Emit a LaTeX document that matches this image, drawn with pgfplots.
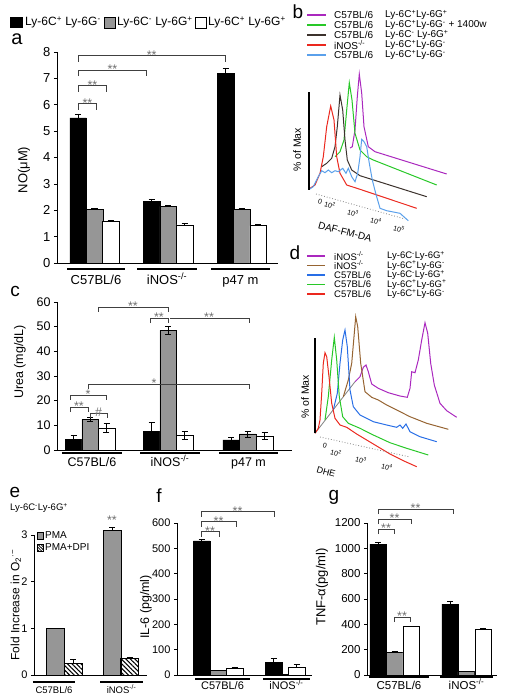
\documentclass[border=0pt]{standalone}
\usepackage{fontspec}
\setmainfont{Liberation Sans}
\usepackage{pgfplots}
\pgfplotsset{compat=1.18}
\usetikzlibrary{patterns.meta}
\newcommand\Pl{\textsuperscript{+}}
\newcommand\Mi{\textsuperscript{-}}
\newcommand\KO{\textsuperscript{-/-}}
\newcommand\fs[1]{\fontsize{#1}{#1}\selectfont}
\definecolor{barg}{RGB}{150,150,150}
\definecolor{cpur}{RGB}{170,40,190}
\definecolor{cgrn}{RGB}{40,200,40}
\definecolor{cbrn}{RGB}{150,100,50}
\definecolor{cdk}{RGB}{60,50,45}
\definecolor{cred}{RGB}{235,40,30}
\definecolor{cblu}{RGB}{40,110,230}
\definecolor{cltb}{RGB}{90,160,235}
\definecolor{cstar}{RGB}{110,110,110}
\pgfplotsset{
 panel/.style={anchor=south west, scale only axis, axis lines*=left, tick align=outside, xtick=\empty, clip=false,
   axis line style={line width=0.6pt}, major tick length=3pt, tick style={line width=0.6pt, black}, ymin=0,
   /pgf/number format/assume math mode=true, /pgf/number format/1000 sep={}},
 mybar/.style={ybar, bar shift=0pt, bar width=16.5, draw=black, line width=0.5pt,
   error bars/y dir=plus, error bars/y explicit,
   error bars/error bar style={line width=0.6pt, black},
   error bars/error mark options={rotate=90, mark size=3pt, line width=0.6pt, black}},
 flow/.style={anchor=south west, scale only axis, axis lines=none, clip=false, y dir=reverse, xmin=290, xmax=509},
}
% bracket: x1, x2, y, xmid, label, tick length
\newcommand\brk[6]{%
 \draw[black!75,line width=0.6pt] (axis cs:#1,#3) ++(0pt,-#6pt) -- ++(0pt,#6pt) -- (axis cs:#2,#3) -- ++(0pt,-#6pt);
 \node[cstar,anchor=base,inner sep=0pt,font=\fs{12.5},yshift=-3.5pt] at (axis cs:#4,#3) {#5};}
% group: x1, length, center, line drop, label drop, font size, text
\newcommand\grp[7]{%
 \draw[line width=1.3pt] (axis cs:#1,0) ++(0pt,-#4pt) -- ++(#2pt,0pt);
 \node[font=\fs{#6},anchor=base,inner sep=0pt,yshift=-#5pt] at (axis cs:#3,0) {#7};}
\begin{document}
\begin{tikzpicture}
\useasboundingbox (0,0) rectangle (509pt,-696pt);
%================ a
\begin{axis}[panel, at={(57pt,-263pt)}, width=221pt, height=211pt, xmin=57, xmax=278, ymax=8,
  ytick={0,1,...,8}, yticklabel style={font=\fs{13}}]
\addplot[mybar, fill=black] coordinates {(78,5.5) +- (0,0.15) (151.5,2.33) +- (0,0.1) (225.5,7.18) +- (0,0.22)};
\addplot[mybar, fill=barg] coordinates {(94.5,2.02) +- (0,0.05) (168,2.15) +- (0,0.04) (241.5,2.02) +- (0,0.05)};
\addplot[mybar, fill=white] coordinates {(110.5,1.57) +- (0,0.04) (184.5,1.45) +- (0,0.05) (258,1.42) +- (0,0.03)};
\brk{78.3}{96.7}{6.04}{87.5}{**}{6}
\brk{78.3}{106.7}{6.72}{92.5}{**}{6}
\brk{78.3}{146.7}{7.31}{112.5}{**}{6}
\brk{78.3}{225}{7.86}{151.7}{**}{6}
\grp{67}{58}{96}{6}{21}{13}{C57BL/6}
\grp{137}{60}{167}{6}{21}{13}{iNOS\KO}
\grp{211}{59}{240.5}{6}{21}{13}{p47 m}
\end{axis}
%================ c
\begin{axis}[panel, at={(57pt,-450pt)}, width=235pt, height=148pt, xmin=57, xmax=292, ymax=60,
  ytick={0,10,...,60}, yticklabel style={font=\fs{12.5}}]
\addplot[mybar, error bars/y dir=both, fill=black] coordinates {(73.5,4.3) +- (0,1.8) (151.5,7.6) +- (0,3.6) (231,4.1) +- (0,1.0)};
\addplot[mybar, error bars/y dir=both, fill=barg] coordinates {(90,12.4) +- (0,0.8) (168,48.5) +- (0,1.5) (247.5,6.5) +- (0,1.2)};
\addplot[mybar, error bars/y dir=both, fill=white] coordinates {(106.5,9.0) +- (0,1.8) (184.5,5.9) +- (0,1.6) (264.5,5.7) +- (0,1.3)};
\brk{70}{88}{17.4}{79}{**}{5}
\brk{90}{107}{15}{98.5}{\#}{5}
\brk{70}{106}{22.3}{88}{*}{5}
\brk{88}{249}{26.8}{154}{*}{5}
\brk{98}{168}{58}{133}{**}{5}
\brk{150}{168}{53.5}{159}{**}{5}
\draw[black!75,line width=0.6pt] (axis cs:170,53.5) -- (axis cs:249,53.5) -- ++(0pt,-5pt);
\node[cstar,anchor=base,inner sep=0pt,font=\fs{12.5},yshift=-3.5pt] at (axis cs:209,53.5) {**};
\grp{62}{60}{92}{3}{16}{12.5}{C57BL/6}
\grp{140}{60}{170}{3}{16}{12.5}{iNOS\KO}
\grp{219}{59}{248.5}{3}{16}{12.5}{p47 m}
\end{axis}
%================ e
\begin{axis}[panel, at={(34pt,-675pt)}, width=113pt, height=140pt, xmin=34, xmax=147, ymax=3,
  ytick={0,1,2,3}, yticklabel style={font=\fs{11}}]
\addplot[mybar, bar width=18, fill=barg] coordinates {(55,1.0) +- (0,0) (112,3.1) +- (0,0.06)};
\addplot[mybar, bar width=18, pattern={Lines[angle=-45,distance=3.2pt,line width=1.1pt]}] coordinates {(73,0.25) +- (0,0.08) (129.5,0.35) +- (0,0.04)};
\node[cstar,anchor=base,inner sep=0pt,font=\fs{12.5}] at (axis cs:112,3.22) {**};
\grp{33}{42}{54}{7}{18}{9.5}{C57BL/6}
\grp{100}{43}{121.5}{7}{18}{9.5}{iNOS\KO}
\end{axis}
%================ f
\begin{axis}[panel, at={(177pt,-675pt)}, width=135pt, height=152pt, xmin=177, xmax=312, ymax=600,
  ytick={0,100,...,600}, yticklabel style={font=\fs{11}}]
\addplot[mybar, fill=black] coordinates {(201.5,529) +- (0,8) (273.5,49) +- (0,18)};
\addplot[mybar, fill=barg] coordinates {(218,17) +- (0,2)};
\addplot[mybar, bar width=6, fill=barg] coordinates {(285,3) +- (0,0)};
\addplot[mybar, fill=white] coordinates {(234.5,28) +- (0,4) (296.5,32) +- (0,10)};
\brk{201}{219}{566}{210}{**}{5}
\brk{201}{236}{605}{218.5}{**}{5}
\brk{201}{274}{645}{237.5}{**}{5}
\grp{195}{55}{222.5}{4}{14}{11}{C57BL/6}
\grp{263}{47}{286.5}{4}{14}{11}{iNOS\KO}
\end{axis}
%================ g
\begin{axis}[panel, at={(367pt,-675pt)}, width=130pt, height=152pt, xmin=367, xmax=497, ymax=1200,
  ytick={0,200,...,1200}, yticklabel style={font=\fs{11.5}}]
\addplot[mybar, fill=black] coordinates {(378,1034) +- (0,15) (450,560) +- (0,25)};
\addplot[mybar, fill=barg] coordinates {(394.5,179) +- (0,8) (466,26) +- (0,3)};
\addplot[mybar, fill=white] coordinates {(411,381) +- (0,5) (483,360) +- (0,12)};
\brk{378}{394}{1152}{386}{**}{5}
\brk{378}{411}{1231}{394.5}{**}{5}
\brk{378}{453}{1310}{415.5}{**}{5}
\brk{394}{410}{457}{402}{**}{5}
\grp{369}{60}{399}{2}{14}{11.5}{C57BL/6}
\grp{440}{53}{466.5}{2}{14}{11.5}{iNOS\KO}
\end{axis}
%================ b (flow)
\begin{axis}[flow, at={(290pt,-245pt)}, width=219pt, height=185pt, ymin=60, ymax=245]
\addplot[cpur, line width=1pt] coordinates {(350,148) (352.3,146.7) (355,130) (357.3,96.7) (359.3,74) (361.7,93.3) (364,126.7) (368.3,146.7) (375,151.7) (446.7,174)};
\addplot[cgrn, line width=1pt] coordinates {(335,156.7) (340,151.7) (344,140) (346.7,110) (349.3,82.7) (352,100) (355,133.3) (360,150) (366.7,156.7) (373.3,160) (436.7,185)};
\addplot[cdk, line width=1pt] coordinates {(321.7,166.7) (326.7,163.3) (331.7,158.3) (335,146.7) (337.3,126.7) (340,95) (342.7,110) (345,140) (347.3,160) (351.7,170) (360,175.7) (426.7,196.7)};
\addplot[cred, line width=1pt] coordinates {(310,188.3) (315,185) (320,173.3) (323.3,156.7) (326.7,126.7) (330.7,106) (334,120) (336.7,156.7) (340,173.3) (346.7,185) (360,189.3) (416.7,208.3)};
\addplot[cltb, line width=1pt] coordinates {(309.3,189.3) (313.3,186.7) (318.3,176.7) (321.7,170.7) (325,172.7) (328.3,170) (331.7,172.7) (335,170.7) (338.3,171.7) (342.7,168.3) (346,173.3) (348.3,168.3) (351.7,176.7) (355,181.7) (357.7,173.3) (360,156.7) (361.7,139.3) (364,141.7) (366.7,146.7) (369.3,163.3) (372.3,180) (375.7,193.3) (380,208.3) (386.7,210.7) (400,213.3) (408.3,220.7)};
\end{axis}
%================ d (flow)
\begin{axis}[flow, at={(290pt,-480pt)}, width=219pt, height=180pt, ymin=300, ymax=480]
\addplot[gray, line width=0.8pt] coordinates {(315,433.3) (355,381.7)};
\addplot[cpur, line width=1pt] coordinates {(355,381.7) (360,376.7) (363.3,367.3) (366,365) (368.3,371.7) (371.7,384) (378.3,388.3) (388.3,392.7) (400,396) (407.3,397.3) (410,388.3) (411.7,371.7) (415,372.7) (418.3,360) (421.7,340) (425,322.7) (427.7,333.3) (430.7,363.3) (434.3,385) (440,403.3) (446.7,410.7) (456.7,417.3)};
\addplot[cbrn, line width=1pt] coordinates {(343.3,396.7) (348.3,380) (351.7,363.3) (354,336.7) (355.7,316.7) (357.7,326.7) (360.7,363.3) (365,391.7) (371.7,397.3) (378.3,400) (386.7,405) (396.7,410) (410,416.7) (426.7,423.3) (448.3,429.3)};
\addplot[cblu, line width=1pt] coordinates {(333.3,410) (337.3,393.3) (340,363.3) (342.7,340) (345,330) (347.3,346.7) (350,390) (353.3,406.7) (360,415) (373.3,421.7) (386.7,425) (396.7,427.3) (400,425) (402.7,428.3) (406,424) (410,431.7) (420,436.7) (436.7,441.7)};
\addplot[cgrn, line width=1pt] coordinates {(325,420) (328.3,396.7) (331.7,360) (334.3,337.3) (336.7,360) (339.3,396.7) (342.7,416.7) (348.3,423.3) (360,428.3) (373.3,435) (390,442.7) (406.7,448.3) (428.3,455)};
\addplot[cred, line width=1pt] coordinates {(315,433.3) (318.3,428.3) (320,420) (321.7,393.3) (323.3,363.3) (325,352.7) (326.7,356.7) (329,376.7) (331.7,403.3) (335,418.3) (340,425) (346.7,427.3) (356.7,434) (366.7,440) (376.7,446) (390,454) (403.3,460.7) (416.7,466.7)};
\end{axis}
%================ annotations
\begin{scope}[x=1pt,y=-1pt]
% top legend
\fill (10,17) rectangle (23,28);
\node[anchor=west,inner sep=1pt,font=\fs{12}] at (24,22.5) {Ly-6C\Pl{} Ly-6G\Mi};
\filldraw[fill=barg,draw=black,line width=0.8pt] (104,17) rectangle (115,28);
\node[anchor=west,inner sep=1pt,font=\fs{12}] at (116,22.5) {Ly-6C\Mi{} Ly-6G\Pl};
\draw[line width=0.8pt] (195,17) rectangle (206,28);
\node[anchor=west,inner sep=1pt,font=\fs{12}] at (207,22.5) {Ly-6C\Pl{} Ly-6G\Pl};
% panel letters
\node[font=\fs{20}] at (17,39) {a};
\node[font=\fs{19}] at (298,12) {b};
\node[font=\fs{19}] at (15,291) {c};
\node[font=\fs{19}] at (295,253) {d};
\node[font=\fs{19}] at (15,492) {e};
\node[font=\fs{19}] at (159,496) {f};
\node[font=\fs{19}] at (334,497) {g};
% y labels
\node[rotate=90,font=\fs{13}] at (24,170) {NO(μM)};
\node[rotate=90,font=\fs{12.5}] at (20,362) {Urea (mg/dL)};
\node[rotate=90,font=\fs{12}] at (16,605) {Fold Increase in O\textsubscript{2}\textsuperscript{·−}};
\node[rotate=90,font=\fs{12.5}] at (146,607) {IL-6 (pg/ml)};
\node[rotate=90,font=\fs{13}] at (322,587) {TNF-α(pg/ml)};
% e extras
\node[font=\fs{9.5}] at (39,508) {Ly-6C\Mi Ly-6G\Pl};
\filldraw[fill=barg,draw=black,line width=0.5pt] (37,532) rectangle (43.5,539);
\node[anchor=west,inner sep=1pt,font=\fs{10}] at (44,535.5) {PMA};
\draw[line width=0.5pt,pattern={Lines[angle=-45,distance=2pt,line width=0.8pt]}] (37,544) rectangle (43.5,551);
\node[anchor=west,inner sep=1pt,font=\fs{10}] at (44,547.5) {PMA+DPI};
% b legend
\draw[cpur,line width=1.4pt] (307,15) -- (326,15);
\draw[cgrn,line width=1.4pt] (307,25) -- (326,25);
\draw[cdk,line width=1.4pt] (307,35) -- (326,35);
\draw[cred,line width=1.4pt] (307,45) -- (326,45);
\draw[cltb,line width=1.4pt] (307,55) -- (326,55);
\node[anchor=west,inner sep=0pt,font=\fs{10}] at (334,15) {C57BL/6};
\node[anchor=west,inner sep=0pt,font=\fs{10}] at (334,25) {C57BL/6};
\node[anchor=west,inner sep=0pt,font=\fs{10}] at (334,35) {C57BL/6};
\node[anchor=west,inner sep=0pt,font=\fs{10}] at (334,45) {iNOS\KO};
\node[anchor=west,inner sep=0pt,font=\fs{10}] at (334,55) {C57BL/6};
\node[anchor=west,inner sep=0pt,font=\fs{10}] at (385,15) {Ly-6C\Pl Ly-6G\Pl};
\node[anchor=west,inner sep=0pt,font=\fs{10}] at (385,25) {Ly-6C\Pl Ly-6G\Mi{} + 1400w};
\node[anchor=west,inner sep=0pt,font=\fs{10}] at (385,35) {Ly-6C\Mi{} Ly-6G\Pl};
\node[anchor=west,inner sep=0pt,font=\fs{10}] at (385,45) {Ly-6C\Pl Ly-6G\Mi};
\node[anchor=west,inner sep=0pt,font=\fs{10}] at (385,55) {Ly-6C\Pl Ly-6G\Mi};
% b axes
\draw[line width=1.2pt] (309,92) -- (309,190);
\draw[gray,dotted,line width=0.8pt] (316,194) -- (405,219);
\node[rotate=90,font=\fs{10.5}] at (297,150) {\% of Max};
\node[font=\fs{7},rotate=-15] at (320,202) {0};
\node[font=\fs{7},rotate=-15] at (330,205) {10\textsuperscript{2}};
\node[font=\fs{7},rotate=-15] at (353,213) {10\textsuperscript{3}};
\node[font=\fs{7},rotate=-15] at (376,221) {10\textsuperscript{4}};
\node[font=\fs{7},rotate=-15] at (399,229) {10\textsuperscript{5}};
\node[font=\fs{10},rotate=-15] at (345,232) {DAF-FM-DA};
% d legend
\draw[cpur,line width=1.4pt] (307,256) -- (325,256);
\draw[cbrn,line width=1.4pt] (307,265.5) -- (325,265.5);
\draw[cblu,line width=1.4pt] (307,275) -- (325,275);
\draw[cgrn,line width=1.4pt] (307,284.5) -- (325,284.5);
\draw[cred,line width=1.4pt] (307,294) -- (325,294);
\node[anchor=west,inner sep=0pt,font=\fs{9.5}] at (334,256) {iNOS\KO};
\node[anchor=west,inner sep=0pt,font=\fs{9.5}] at (334,265.5) {iNOS\KO};
\node[anchor=west,inner sep=0pt,font=\fs{9.5}] at (334,275) {C57BL/6};
\node[anchor=west,inner sep=0pt,font=\fs{9.5}] at (334,284.5) {C57BL/6};
\node[anchor=west,inner sep=0pt,font=\fs{9.5}] at (334,294) {C57BL/6};
\node[anchor=west,inner sep=0pt,font=\fs{9.5}] at (387,256) {Ly-6C\Mi Ly-6G\Pl};
\node[anchor=west,inner sep=0pt,font=\fs{9.5}] at (387,265.5) {Ly-6C\Pl Ly-6G\Mi};
\node[anchor=west,inner sep=0pt,font=\fs{9.5}] at (387,275) {Ly-6C\Mi Ly-6G\Pl};
\node[anchor=west,inner sep=0pt,font=\fs{9.5}] at (387,284.5) {Ly-6C\Pl Ly-6G\Pl};
\node[anchor=west,inner sep=0pt,font=\fs{9.5}] at (387,294) {Ly-6C\Pl Ly-6G\Mi};
% d axes
\draw[line width=1.2pt] (315,338) -- (315,433);
\draw[gray,dotted,line width=0.8pt] (320,437) -- (410,457);
\node[rotate=90,font=\fs{10.5}] at (305,397) {\% of Max};
\node[font=\fs{7},rotate=-15] at (325,446) {0};
\node[font=\fs{7},rotate=-15] at (336,453) {10\textsuperscript{2}};
\node[font=\fs{7},rotate=-15] at (361,460) {10\textsuperscript{3}};
\node[font=\fs{7},rotate=-15] at (387,467) {10\textsuperscript{4}};
\node[font=\fs{9},rotate=-15] at (326,472) {DHE};
\end{scope}
\end{tikzpicture}
\end{document}
